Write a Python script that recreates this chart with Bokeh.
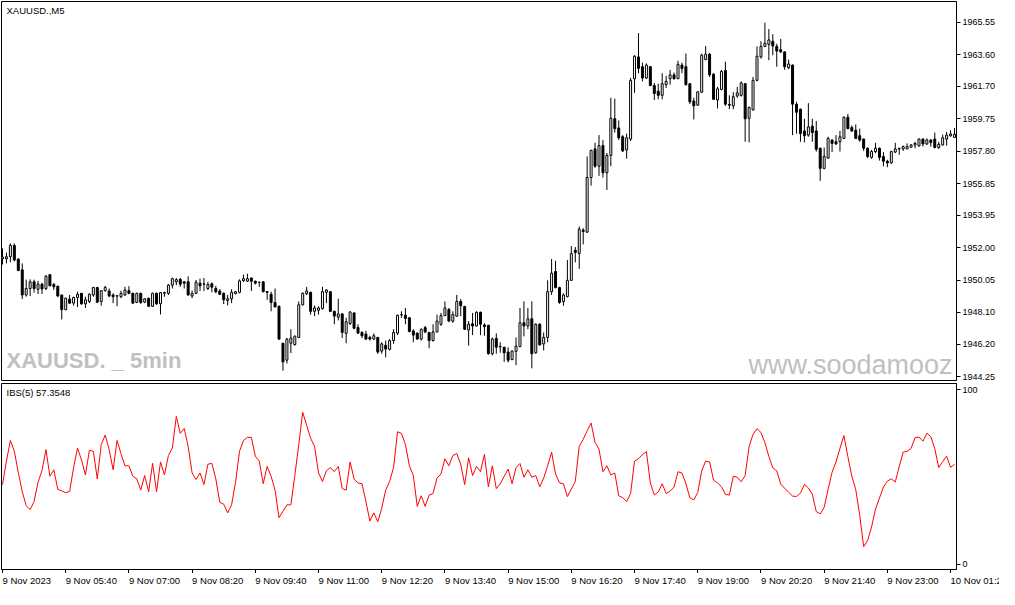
from bokeh.plotting import figure
from bokeh.models import Range1d, LinearAxis, FixedTicker, PrintfTickFormatter, ColumnDataSource
from bokeh.layouts import column
from bokeh.embed import file_html
from bokeh.resources import INLINE
from bokeh.core.properties import value

# ---------------- data ----------------
symbol_title = "XAUUSD.,M5"
indicator_title = "IBS(5) 57.3548"
watermark_left = "XAUUSD. _ 5min"
watermark_right = "www.soodamooz"

bar_index = list(range(242))

open_ = [
    1951.33, 1951.33, 1951.45, 1952.13, 1951.31, 1950.66, 1949.15, 1949.54, 1949.94, 1949.49,
    1949.80, 1949.54, 1950.37, 1949.78, 1949.68, 1949.15, 1948.27, 1948.90, 1948.66, 1949.00,
    1949.25, 1948.62, 1948.76, 1949.15, 1949.60, 1948.76, 1949.41, 1949.39, 1949.15, 1949.09,
    1949.05, 1949.15, 1949.41, 1949.25, 1948.70, 1949.25, 1948.72, 1948.96, 1948.47, 1949.25,
    1948.62, 1949.25, 1949.25, 1949.74, 1949.94, 1950.09, 1949.94, 1949.94, 1949.09, 1949.25,
    1949.86, 1949.80, 1949.54, 1949.82, 1949.54, 1949.39, 1949.25, 1948.82, 1948.92, 1949.23,
    1949.31, 1950.01, 1949.98, 1950.17, 1949.98, 1949.90, 1949.94, 1949.35, 1949.19, 1948.70,
    1948.47, 1946.25, 1945.23, 1946.25, 1946.17, 1946.60, 1948.56, 1949.23, 1949.31, 1948.17,
    1948.23, 1948.33, 1949.31, 1949.35, 1948.17, 1947.82, 1948.01, 1946.84, 1947.43, 1948.07,
    1947.19, 1946.90, 1946.80, 1946.60, 1946.50, 1946.60, 1945.78, 1946.13, 1945.88, 1946.41,
    1946.86, 1947.95, 1947.93, 1947.78, 1946.99, 1946.86, 1946.50, 1947.19, 1946.90, 1946.41,
    1946.93, 1947.39, 1947.91, 1948.27, 1947.58, 1947.88, 1948.76, 1948.46, 1947.05, 1947.42,
    1947.29, 1948.11, 1947.35, 1947.33, 1945.62, 1946.54, 1946.05, 1946.01, 1945.72, 1945.27,
    1945.76, 1946.05, 1947.48, 1947.29, 1947.72, 1945.68, 1947.39, 1946.21, 1946.60, 1949.35,
    1950.56, 1949.60, 1948.76, 1949.05, 1950.03, 1951.84, 1951.64, 1953.05, 1952.93, 1956.21,
    1957.93, 1956.89, 1958.13, 1956.50, 1957.54, 1959.74, 1959.19, 1958.66, 1957.87, 1958.52,
    1962.15, 1963.46, 1962.87, 1962.19, 1962.87, 1961.74, 1961.40, 1961.15, 1961.79, 1962.15,
    1962.38, 1962.15, 1962.97, 1962.87, 1961.85, 1960.81, 1960.56, 1961.34, 1963.30, 1963.62,
    1962.42, 1960.87, 1961.50, 1962.64, 1960.60, 1960.52, 1961.11, 1961.15, 1961.85, 1959.77,
    1960.28, 1962.05, 1963.46, 1964.09, 1964.21, 1964.40, 1964.09, 1963.89, 1963.76, 1962.81,
    1962.97, 1960.62, 1960.32, 1959.01, 1958.76, 1959.30, 1959.01, 1957.97, 1956.76, 1957.38,
    1958.46, 1958.36, 1958.36, 1958.56, 1959.83, 1959.21, 1959.05, 1958.72, 1958.52, 1957.97,
    1957.42, 1957.77, 1957.97, 1957.48, 1957.19, 1957.09, 1957.74, 1957.93, 1957.93, 1957.93,
    1958.03, 1958.17, 1958.11, 1958.52, 1958.23, 1958.46, 1958.52, 1958.01, 1958.17, 1958.52,
    1958.72, 1958.62]

high = [
    1951.96, 1951.70, 1952.25, 1952.25, 1951.35, 1951.05, 1950.07, 1950.09, 1950.07, 1950.00,
    1949.88, 1950.33, 1950.39, 1949.88, 1949.70, 1949.17, 1948.98, 1949.15, 1949.05, 1949.35,
    1949.27, 1949.05, 1949.25, 1949.64, 1949.64, 1949.45, 1949.70, 1949.54, 1949.25, 1949.15,
    1949.41, 1949.64, 1949.68, 1949.29, 1949.29, 1949.29, 1948.96, 1948.98, 1949.29, 1949.29,
    1949.33, 1949.35, 1949.80, 1950.19, 1950.17, 1950.17, 1949.98, 1950.27, 1949.41, 1950.05,
    1950.13, 1950.17, 1949.94, 1949.90, 1949.70, 1949.50, 1949.31, 1949.15, 1949.50, 1949.39,
    1950.09, 1950.37, 1950.43, 1950.20, 1950.01, 1949.98, 1949.96, 1949.39, 1949.35, 1949.54,
    1948.52, 1946.27, 1946.56, 1947.09, 1946.70, 1948.76, 1949.31, 1949.64, 1949.35, 1948.52,
    1948.47, 1949.64, 1949.50, 1949.39, 1948.21, 1948.92, 1948.07, 1947.78, 1948.17, 1948.11,
    1947.39, 1946.96, 1947.00, 1946.70, 1946.84, 1946.62, 1946.31, 1946.41, 1946.50, 1947.09,
    1947.97, 1948.17, 1948.37, 1947.82, 1947.09, 1946.90, 1947.13, 1947.29, 1946.93, 1947.39,
    1947.97, 1948.07, 1948.76, 1948.37, 1948.17, 1949.15, 1948.90, 1948.50, 1947.58, 1948.07,
    1948.17, 1948.15, 1947.45, 1947.35, 1946.60, 1946.84, 1946.31, 1946.03, 1946.01, 1945.82,
    1946.60, 1948.37, 1948.76, 1948.37, 1948.76, 1947.45, 1947.45, 1946.90, 1950.03, 1951.31,
    1951.21, 1949.64, 1949.25, 1951.25, 1952.09, 1952.03, 1953.27, 1953.17, 1957.48, 1957.88,
    1958.30, 1958.76, 1958.46, 1957.68, 1961.01, 1960.95, 1959.64, 1958.76, 1958.85, 1962.19,
    1963.56, 1964.89, 1963.11, 1963.07, 1962.91, 1961.89, 1961.85, 1962.48, 1962.32, 1962.68,
    1962.52, 1963.23, 1963.11, 1963.66, 1961.89, 1961.01, 1961.40, 1963.66, 1964.11, 1963.70,
    1962.48, 1961.66, 1962.68, 1963.17, 1961.15, 1961.34, 1961.66, 1961.99, 1961.89, 1960.48,
    1962.25, 1964.09, 1964.40, 1965.52, 1965.13, 1964.83, 1964.25, 1964.54, 1963.81, 1963.30,
    1963.00, 1960.76, 1960.35, 1959.74, 1960.68, 1959.74, 1959.60, 1958.01, 1958.01, 1958.66,
    1958.50, 1958.76, 1959.01, 1959.89, 1960.03, 1959.34, 1959.40, 1959.15, 1958.56, 1958.01,
    1957.87, 1958.30, 1958.01, 1957.74, 1957.28, 1957.81, 1958.30, 1958.01, 1958.13, 1958.26,
    1958.21, 1958.36, 1958.56, 1958.56, 1958.56, 1958.52, 1958.91, 1958.36, 1958.79, 1958.95,
    1959.05, 1959.19]

low = [
    1950.98, 1951.05, 1951.11, 1951.17, 1950.58, 1948.90, 1949.05, 1949.09, 1949.29, 1949.21,
    1949.21, 1949.45, 1949.68, 1949.45, 1949.02, 1947.68, 1948.23, 1948.62, 1948.51, 1948.43,
    1948.56, 1948.37, 1948.66, 1949.05, 1948.66, 1948.51, 1949.35, 1949.02, 1948.66, 1948.47,
    1948.96, 1949.09, 1949.19, 1948.62, 1948.66, 1948.62, 1948.66, 1948.43, 1948.43, 1948.56,
    1947.98, 1949.05, 1949.15, 1949.54, 1949.74, 1949.64, 1949.54, 1949.11, 1948.96, 1949.20,
    1949.39, 1949.39, 1949.45, 1949.31, 1949.25, 1949.15, 1948.60, 1948.52, 1948.66, 1949.19,
    1949.25, 1949.94, 1949.94, 1949.39, 1949.78, 1949.64, 1949.31, 1948.86, 1948.17, 1948.41,
    1946.45, 1944.60, 1945.03, 1945.66, 1946.11, 1946.56, 1948.52, 1949.15, 1947.97, 1947.88,
    1947.97, 1948.27, 1948.66, 1948.13, 1947.39, 1947.62, 1946.56, 1946.25, 1947.35, 1947.09,
    1946.80, 1946.56, 1946.45, 1946.41, 1946.45, 1945.62, 1945.62, 1945.40, 1945.82, 1946.21,
    1946.74, 1947.78, 1947.39, 1946.90, 1946.31, 1946.46, 1946.41, 1946.86, 1945.95, 1946.35,
    1946.90, 1947.29, 1947.88, 1947.52, 1947.48, 1947.84, 1947.88, 1947.05, 1946.11, 1946.74,
    1947.25, 1946.74, 1946.70, 1945.56, 1945.52, 1945.62, 1945.68, 1945.13, 1945.09, 1945.23,
    1944.93, 1946.01, 1946.66, 1947.09, 1944.74, 1945.62, 1946.11, 1945.82, 1946.31, 1949.15,
    1949.54, 1948.62, 1948.50, 1949.01, 1949.99, 1951.11, 1950.72, 1952.19, 1952.88, 1955.72,
    1956.80, 1956.31, 1956.21, 1955.46, 1956.89, 1958.91, 1958.46, 1957.74, 1957.34, 1958.40,
    1961.30, 1962.48, 1961.99, 1962.13, 1961.70, 1960.87, 1960.91, 1960.91, 1961.60, 1961.79,
    1962.09, 1962.13, 1962.48, 1961.74, 1960.62, 1959.70, 1960.52, 1961.30, 1963.26, 1962.25,
    1960.87, 1960.36, 1961.46, 1960.52, 1960.32, 1960.32, 1961.01, 1961.07, 1958.36, 1958.32,
    1960.23, 1961.99, 1963.36, 1964.05, 1963.26, 1963.56, 1962.87, 1963.70, 1962.68, 1962.72,
    1958.76, 1958.85, 1958.36, 1958.32, 1958.66, 1958.36, 1957.77, 1956.01, 1956.70, 1957.34,
    1957.74, 1958.17, 1957.77, 1958.52, 1959.11, 1958.95, 1958.52, 1958.36, 1957.81, 1957.38,
    1957.34, 1957.68, 1957.23, 1956.89, 1956.83, 1957.03, 1957.68, 1957.58, 1957.81, 1957.91,
    1958.01, 1957.97, 1958.07, 1958.07, 1958.17, 1958.07, 1957.97, 1957.93, 1958.13, 1958.13,
    1958.66, 1958.60]

close = [
    1951.43, 1951.45, 1952.13, 1951.25, 1950.62, 1949.15, 1949.54, 1949.94, 1949.54, 1949.80,
    1949.51, 1950.29, 1949.70, 1949.64, 1949.09, 1948.27, 1948.96, 1948.66, 1949.00, 1949.19,
    1948.62, 1948.86, 1949.19, 1949.60, 1948.72, 1949.41, 1949.60, 1949.09, 1949.05, 1949.10,
    1949.25, 1949.45, 1949.25, 1948.66, 1949.25, 1948.70, 1948.92, 1948.47, 1949.25, 1948.62,
    1949.29, 1949.29, 1949.74, 1950.13, 1950.07, 1949.80, 1949.86, 1949.15, 1949.25, 1949.92,
    1949.70, 1949.82, 1949.78, 1949.62, 1949.35, 1949.19, 1948.86, 1948.92, 1949.31, 1949.35,
    1950.00, 1950.13, 1950.13, 1949.98, 1949.86, 1949.91, 1949.35, 1949.31, 1948.70, 1948.43,
    1946.50, 1945.13, 1946.50, 1946.56, 1946.68, 1948.56, 1949.25, 1949.39, 1948.17, 1948.37,
    1948.37, 1949.35, 1949.45, 1948.17, 1947.88, 1948.01, 1946.90, 1947.54, 1948.13, 1947.15,
    1946.86, 1946.70, 1946.50, 1946.50, 1946.70, 1945.72, 1946.21, 1945.90, 1946.41, 1946.90,
    1947.93, 1947.97, 1947.74, 1946.96, 1946.74, 1946.50, 1947.09, 1946.93, 1946.41, 1946.93,
    1947.58, 1947.91, 1948.37, 1947.58, 1947.97, 1948.76, 1948.50, 1947.09, 1947.39, 1947.29,
    1948.11, 1947.39, 1947.25, 1945.62, 1946.50, 1946.01, 1946.03, 1945.68, 1945.23, 1945.78,
    1946.07, 1947.48, 1947.29, 1947.72, 1945.62, 1947.39, 1946.15, 1946.60, 1949.35, 1950.46,
    1949.60, 1948.70, 1949.15, 1950.03, 1951.64, 1951.70, 1953.11, 1952.97, 1956.21, 1957.84,
    1956.89, 1958.13, 1956.50, 1957.54, 1959.77, 1959.15, 1958.60, 1957.81, 1958.60, 1962.05,
    1963.50, 1962.77, 1962.19, 1962.97, 1961.74, 1961.26, 1961.15, 1961.85, 1961.99, 1962.38,
    1962.15, 1963.01, 1962.77, 1961.79, 1960.76, 1960.52, 1961.36, 1963.56, 1963.62, 1962.38,
    1960.91, 1961.54, 1962.58, 1960.62, 1960.56, 1961.07, 1961.30, 1961.89, 1959.74, 1960.42,
    1962.05, 1963.50, 1964.09, 1964.28, 1964.48, 1964.11, 1963.81, 1963.76, 1962.87, 1963.03,
    1960.62, 1960.13, 1958.85, 1958.72, 1959.25, 1958.91, 1957.91, 1956.76, 1957.48, 1958.56,
    1958.26, 1958.23, 1958.66, 1959.83, 1959.15, 1959.01, 1958.56, 1958.46, 1957.97, 1957.48,
    1957.77, 1957.97, 1957.42, 1957.19, 1957.09, 1957.77, 1957.93, 1957.95, 1958.07, 1958.07,
    1958.17, 1958.26, 1958.52, 1958.23, 1958.46, 1958.32, 1958.01, 1958.21, 1958.60, 1958.76,
    1958.83, 1958.81]

ibs = [
    45.6, 59.1, 70.9, 64.7, 52.6, 41.5, 33.6, 31.2, 35.9, 47.0,
    53.6, 65.7, 50.4, 54.1, 42.9, 42.0, 40.9, 41.8, 55.4, 66.6,
    59.7, 51.1, 65.3, 64.7, 48.9, 68.5, 74.0, 65.7, 54.1, 70.9,
    63.4, 56.4, 56.4, 50.4, 48.9, 42.4, 50.8, 41.5, 57.8, 41.5,
    58.6, 51.1, 62.3, 66.6, 84.7, 75.0, 77.8, 67.5, 52.3, 48.5,
    52.3, 45.6, 57.3, 57.8, 48.9, 35.5, 34.4, 29.4, 34.0, 47.0,
    64.7, 70.9, 72.7, 72.7, 61.9, 59.1, 46.1, 56.0, 50.4, 42.4,
    26.6, 30.3, 34.0, 34.0, 50.8, 68.5, 87.1, 79.6, 72.2, 67.5,
    52.3, 47.4, 53.5, 55.4, 53.0, 56.0, 43.3, 42.4, 58.6, 48.9,
    46.5, 46.1, 35.9, 24.7, 29.4, 24.3, 32.1, 42.4, 47.4, 55.4,
    75.9, 75.0, 68.5, 56.4, 50.8, 33.1, 39.2, 33.1, 39.6, 40.5,
    49.3, 51.7, 60.4, 56.4, 62.3, 63.4, 57.3, 45.6, 61.0, 50.8,
    56.0, 53.0, 62.9, 44.3, 56.4, 43.3, 46.1, 50.4, 54.5, 46.1,
    55.4, 57.7, 49.8, 54.1, 49.8, 50.8, 44.3, 49.3, 56.4, 64.2,
    51.7, 46.6, 46.1, 38.7, 43.0, 47.4, 67.5, 71.6, 76.4, 80.9,
    69.8, 66.0, 53.0, 56.4, 51.1, 52.3, 39.2, 38.1, 35.9, 40.5,
    59.1, 60.4, 62.8, 64.5, 46.6, 39.6, 41.4, 46.1, 40.5, 41.8,
    44.2, 53.0, 52.2, 46.1, 38.1, 36.8, 41.1, 53.5, 59.1, 58.6,
    48.2, 46.6, 44.4, 40.0, 39.6, 50.4, 49.8, 47.2, 50.8, 67.5,
    74.4, 77.7, 75.5, 69.6, 61.7, 55.2, 53.5, 45.9, 43.5, 41.2,
    39.0, 38.8, 40.7, 45.7, 43.7, 40.1, 30.1, 28.8, 32.5, 42.9,
    52.6, 58.6, 66.4, 73.7, 61.6, 50.4, 42.7, 28.0, 10.0, 13.5,
    21.3, 31.6, 37.9, 44.2, 47.6, 48.9, 47.1, 56.0, 64.2, 64.7,
    66.4, 72.5, 72.9, 70.5, 75.1, 73.1, 66.2, 55.4, 58.8, 61.9,
    55.5, 57.35]

price_ticks = [1944.25, 1946.20, 1948.10, 1950.05, 1952.00, 1953.95,
               1955.85, 1957.80, 1959.75, 1961.70, 1963.60, 1965.55]
ibs_ticks = [0, 100]
time_tick_bars = [0, 16, 32, 48, 64, 80, 96, 112, 128, 144, 160, 176, 192, 208, 224, 240]
time_tick_labels = ["9 Nov 2023", "9 Nov 05:40", "9 Nov 07:00", "9 Nov 08:20",
                    "9 Nov 09:40", "9 Nov 11:00", "9 Nov 12:20", "9 Nov 13:40",
                    "9 Nov 15:00", "9 Nov 16:20", "9 Nov 17:40", "9 Nov 19:00",
                    "9 Nov 20:20", "9 Nov 21:40", "9 Nov 23:00", "10 Nov 01:20"]

# ---------------- layout constants ----------------
FONT = "Liberation Sans"
W = 999
FRAME_W = 955
RB = W - FRAME_W - 1
BOT1, TOP2 = 2, 1
H1, H2, H3 = 382, 191, 14
X0, X1 = -0.25, 241.5
PPB = FRAME_W / (X1 - X0)
PY0, PY1 = 1944.01, 1966.79
IY0, IY1 = -3.1, 103.6
PXU1 = (H1 - 1 - BOT1) / (PY1 - PY0)
PXU2 = (H2 - TOP2 - 4) / (IY1 - IY0)


def base_fig(**kw):
    p = figure(output_backend="svg", toolbar_location=None, tools="",
               x_axis_location=None, y_axis_location=None, **kw)
    p.grid.visible = False
    p.background_fill_color = "white"
    p.border_fill_color = "white"
    return p


def style_axis(ax, size="9px"):
    ax.major_tick_out = 4
    ax.major_tick_in = 0
    ax.minor_tick_out = 0
    ax.minor_tick_in = 0
    ax.major_label_standoff = 2
    ax.axis_line_color = "black"
    ax.major_tick_line_color = "black"
    ax.major_label_text_font = FONT
    ax.major_label_text_font_size = size
    ax.major_label_text_color = "black"


# ---------------- main price panel ----------------
p1 = base_fig(width=W, height=H1, x_range=Range1d(X0, X1), y_range=Range1d(PY0, PY1),
              min_border_left=1, min_border_right=RB, min_border_top=1, min_border_bottom=BOT1)
p1.outline_line_color = "black"
p1.outline_line_width = 1

yax = LinearAxis(ticker=FixedTicker(ticks=price_ticks),
                 formatter=PrintfTickFormatter(format="%.2f"))
style_axis(yax)
p1.add_layout(yax, "right")

# watermarks (drawn first, beneath the candles)
p1.text(x=[X0 + 5 / PPB], y=[PY0 + 20 / PXU1], text=[watermark_left],
        text_font=value(FONT), text_font_style="bold",
        text_font_size="22px", text_color="#c0c0c0",
        text_align="left", text_baseline="middle")
p1.text(x=[X1 - 4 / PPB], y=[PY0 + 16 / PXU1], text=[watermark_right],
        text_font=value(FONT), text_font_size="27px", text_color="#c0c0c0",
        text_align="right", text_baseline="middle")

body_top = [max(o, c) for o, c in zip(open_, close)]
body_bottom = [min(o, c) for o, c in zip(open_, close)]
body_fill = ["white" if c >= o else "black" for o, c in zip(open_, close)]
src = ColumnDataSource(dict(x=bar_index, h=high, l=low, top=body_top,
                            bottom=body_bottom, fill=body_fill))
p1.segment(x0="x", y0="h", x1="x", y1="l", source=src, line_color="black", line_width=1)
p1.vbar(x="x", top="top", bottom="bottom", width=0.5, source=src,
        fill_color="fill", line_color="black", line_width=1)

p1.text(x=[X0 + 5 / PPB], y=[PY1 - 9 / PXU1], text=[symbol_title],
        text_font=value(FONT), text_font_size="9.5px", text_color="black",
        text_align="left", text_baseline="middle")

# ---------------- IBS indicator panel ----------------
p2 = base_fig(width=W, height=H2, x_range=p1.x_range, y_range=Range1d(IY0, IY1),
              min_border_left=1, min_border_right=RB, min_border_top=TOP2,
              min_border_bottom=0)
p2.outline_line_color = "black"
p2.outline_line_width = 1

iax = LinearAxis(ticker=FixedTicker(ticks=ibs_ticks))
style_axis(iax)
p2.add_layout(iax, "right")

xax = LinearAxis(ticker=FixedTicker(ticks=time_tick_bars))
style_axis(xax, size="0px")
xax.major_label_standoff = 0
xax.major_label_overrides = {t: "" for t in time_tick_bars}
p2.add_layout(xax, "below")

p2.line(x=bar_index, y=ibs, line_color="#ff0000", line_width=1)

p2.text(x=[X0 + 5 / PPB], y=[IY1 - 9 / PXU2], text=[indicator_title],
        text_font=value(FONT), text_font_size="9.5px", text_color="black",
        text_align="left", text_baseline="middle")

# ---------------- time labels strip (separate root, so its frame is not aligned) ----------------
p3 = base_fig(width=W, height=H3, x_range=Range1d(X0, X0 + (W - 1) / PPB),
              y_range=Range1d(0, 1),
              min_border_left=1, min_border_right=0, min_border_top=0, min_border_bottom=0)
p3.outline_line_color = None
p3.text(x=time_tick_bars, y=[0.5] * len(time_tick_bars), text=time_tick_labels,
        text_font=value(FONT), text_font_size="9.5px", text_color="black",
        text_align="left", text_baseline="middle")

panels = column(p1, p2)

open("out.html", "w").write(file_html([panels, p3], INLINE, title="XAUUSD M5 IBS"))
